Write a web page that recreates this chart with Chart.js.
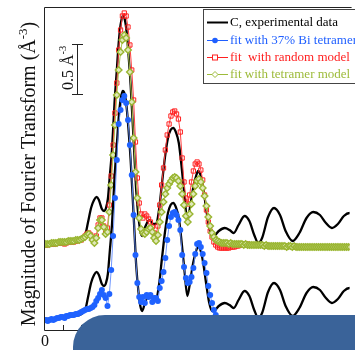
<!DOCTYPE html>
<html>
<head>
<meta charset="utf-8">
<script src="https://cdn.jsdelivr.net/npm/chart.js@4.4.1/dist/chart.umd.min.js"></script>
<style>
  html, body { margin: 0; padding: 0; background: #fff; overflow: hidden; }
  #wrap { position: relative; width: 355px; height: 350px; }
  #cover { position: absolute; left: 73px; top: 315px; width: 320px; height: 80px;
           background: #3a6399; border-top-left-radius: 32px; }
</style>
</head>
<body>
<div id="wrap">
  <canvas id="myChart" width="355" height="350"></canvas>
  <div id="cover"></div>
</div>
<script>
// R grid of the fits (Angstrom), one point every 0.05
const step = 0.05;
// shift of the upper group of curves
const shift = 0.75;

// experimental |FT|, read at key points
const expR = [0, 0.42, 0.82, 1.00, 1.11, 1.18, 1.26, 1.34, 1.41, 1.47, 1.55, 1.61, 1.66, 1.71, 1.76,
  1.82, 1.89, 1.95, 2.00, 2.05, 2.11, 2.16, 2.21, 2.26, 2.32, 2.37, 2.42, 2.47, 2.53, 2.58, 2.63,
  2.71, 2.82, 2.92, 3.00, 3.08, 3.16, 3.24, 3.32, 3.39, 3.46, 3.53, 3.61, 3.68, 3.76, 3.84, 3.92,
  4.00, 4.08, 4.13, 4.18, 4.26, 4.34, 4.42, 4.50, 4.58, 4.68, 4.84, 4.97, 5.08, 5.21, 5.37, 5.50,
  5.63, 5.74, 5.84, 6.00, 6.16, 6.32, 6.47, 6.66, 6.84, 7.03, 7.21, 7.39, 7.55, 7.71, 7.87, 8.03,
  8.18, 8.34];
const expMag = [0.11, 0.12, 0.14, 0.16, 0.21, 0.33, 0.47, 0.55, 0.58, 0.55, 0.46, 0.44, 0.47, 0.56, 0.78,
  1.05, 1.53, 1.85, 2.12, 2.30, 2.39, 2.36, 2.24, 2.02, 1.70, 1.36, 1.00, 0.64, 0.38, 0.24, 0.19,
  0.28, 0.35, 0.31, 0.31, 0.45, 0.72, 0.98, 1.17, 1.25, 1.27, 1.23, 1.12, 0.90, 0.60, 0.34, 0.50,
  0.68, 0.80, 0.84, 0.81, 0.68, 0.47, 0.28, 0.19, 0.20, 0.24, 0.27, 0.25, 0.22, 0.30, 0.39, 0.34,
  0.20, 0.12, 0.17, 0.38, 0.47, 0.40, 0.24, 0.14, 0.22, 0.37, 0.43, 0.40, 0.32, 0.27, 0.31, 0.39,
  0.42, 0.38];

// fit with 37% Bi tetramer
const fitMix = [0.10, 0.10, 0.09, 0.10, 0.11, 0.10, 0.11, 0.12, 0.12, 0.13,
  0.13, 0.12, 0.14, 0.14, 0.15, 0.15, 0.15, 0.16, 0.16, 0.17,
  0.18, 0.19, 0.20, 0.21, 0.21, 0.22, 0.23, 0.25, 0.29, 0.32,
  0.36, 0.40, 0.35, 0.32, 0.24, 0.36, 0.60, 0.94, 1.32, 1.70,
  2.06, 2.20, 2.30, 2.34, 2.27, 2.10, 1.85, 1.55, 1.15, 0.75,
  0.47, 0.33, 0.28, 0.33, 0.27, 0.35, 0.33, 0.35, 0.28, 0.32,
  0.32, 0.29, 0.42, 0.49, 0.58, 0.72, 0.90, 1.04, 1.13, 1.17,
  1.18, 1.15, 1.10, 1.00, 0.75, 0.63, 0.52, 0.47, 0.48, 0.53,
  0.62, 0.76, 0.86, 0.87, 0.83, 0.76, 0.67, 0.57, 0.44, 0.35,
  0.27, 0.20, 0.15, 0.12, 0.11, 0.10];

// fit with random model
const fitRandom = [0.10, 0.10, 0.10, 0.11, 0.11, 0.11, 0.11, 0.12, 0.12, 0.12,
  0.12, 0.11, 0.12, 0.13, 0.13, 0.13, 0.13, 0.14, 0.14, 0.15,
  0.15, 0.17, 0.19, 0.21, 0.22, 0.20, 0.16, 0.13, 0.19, 0.30,
  0.37, 0.37, 0.29, 0.22, 0.27, 0.50, 0.79, 1.10, 1.42, 1.72,
  2.05, 2.25, 2.39, 2.42, 2.39, 2.28, 2.10, 1.85, 1.55, 1.13,
  0.77, 0.52, 0.41, 0.37, 0.41, 0.39, 0.36, 0.33, 0.28, 0.22,
  0.19, 0.29, 0.50, 0.70, 0.87, 1.05, 1.20, 1.31, 1.39, 1.43,
  1.44, 1.41, 1.36, 1.23, 0.97, 0.73, 0.57, 0.51, 0.60, 0.73,
  0.84, 0.91, 0.93, 0.91, 0.85, 0.75, 0.60, 0.45, 0.33, 0.24,
  0.18, 0.13, 0.10, 0.08, 0.07,
  0.07, 0.07, 0.07, 0.07, 0.07, 0.08, 0.08, 0.08, 0.09, 0.09, 0.10, 0.10,
  0.11, 0.10, 0.11, 0.10, 0.10, 0.10, 0.10, 0.10, 0.10,
  0.10, 0.10, 0.09, 0.10, 0.09, 0.09, 0.09, 0.09, 0.09, 0.09,
  0.09, 0.09, 0.09, 0.09, 0.08, 0.09, 0.09, 0.08, 0.09, 0.08,
  0.08, 0.08, 0.08, 0.08, 0.08, 0.08, 0.08, 0.08, 0.08, 0.08,
  0.08, 0.08, 0.08, 0.08, 0.08, 0.08, 0.08, 0.08, 0.08, 0.08,
  0.08, 0.08, 0.08, 0.08, 0.08, 0.08, 0.08, 0.08, 0.08, 0.08, 0.08];

// fit with tetramer model
const fitTetramer = [0.10, 0.11, 0.11, 0.11, 0.12, 0.12, 0.12, 0.12, 0.13, 0.13,
  0.13, 0.13, 0.13, 0.14, 0.14, 0.14, 0.14, 0.15, 0.15, 0.15,
  0.16, 0.17, 0.18, 0.20, 0.21, 0.19, 0.15, 0.12, 0.17, 0.27,
  0.35, 0.35, 0.28, 0.21, 0.23, 0.43, 0.70, 1.00, 1.30, 1.60,
  1.85, 2.03, 2.15, 2.20, 2.17, 2.05, 1.83, 1.53, 1.17, 0.83,
  0.57, 0.37, 0.26, 0.22, 0.21, 0.23, 0.26, 0.27, 0.23, 0.17,
  0.14, 0.20, 0.33, 0.43, 0.53, 0.61, 0.67, 0.71, 0.74, 0.77,
  0.78, 0.77, 0.74, 0.69, 0.61, 0.50, 0.39, 0.33, 0.41, 0.51,
  0.61, 0.69, 0.74, 0.76, 0.73, 0.67, 0.59, 0.49, 0.38, 0.29,
  0.22, 0.18, 0.15, 0.14, 0.13, 0.12,
  0.12, 0.12, 0.12, 0.11, 0.12, 0.11, 0.11, 0.11, 0.11, 0.11,
  0.11, 0.10, 0.11, 0.10, 0.10, 0.10, 0.10, 0.10, 0.10, 0.10,
  0.10, 0.10, 0.09, 0.10, 0.09, 0.09, 0.09, 0.09, 0.09, 0.09,
  0.09, 0.09, 0.09, 0.09, 0.08, 0.09, 0.09, 0.08, 0.09, 0.08,
  0.08, 0.08, 0.08, 0.08, 0.08, 0.08, 0.08, 0.08, 0.08, 0.08,
  0.08, 0.08, 0.08, 0.08, 0.08, 0.08, 0.08, 0.08, 0.08, 0.08,
  0.08, 0.08, 0.08, 0.08, 0.08, 0.08, 0.08, 0.08, 0.08, 0.08, 0.08];

const xTickValues = [0, 0.5, 1, 1.5, 2, 2.5, 3, 3.5, 4, 4.5, 5, 5.5, 6, 6.5, 7, 7.5, 8];
const xTickLabels = ["0"];
const seriesNames = ["C, experimental data", "fit with 37% Bi tetramer", "fit  with random model", "fit with tetramer model"];
const seriesColors = ["#000000", "#1f5fff", "#ff2020", "#9dbb3a"];
const barSize = 0.5;
const barBase = 2.36;

const serif = '"Liberation Serif", "DejaVu Serif", serif';

function onGrid(arr, add) {
  return arr.map((v, i) => ({ x: +(i * step).toFixed(2), y: v + add }));
}
function onKeys(rs, vs, add) {
  return rs.map((r, i) => ({ x: r, y: vs[i] + add }));
}

// text with a raised "-3" part
function supText(ctx, parts, x, y, big, small) {
  let cx = x;
  parts.forEach(p => {
    ctx.font = (p.sup ? small : big) + "px " + serif;
    ctx.fillText(p.t, cx, p.sup ? y - big * 0.42 : y);
    cx += ctx.measureText(p.t).width;
  });
}
function supWidth(ctx, parts, big, small) {
  let w = 0;
  parts.forEach(p => { ctx.font = (p.sup ? small : big) + "px " + serif; w += ctx.measureText(p.t).width; });
  return w;
}

const decor = {
  id: "decor",
  afterDraw(chart) {
    const ctx = chart.ctx, a = chart.chartArea;
    const xs = chart.scales.x, ys = chart.scales.y;
    ctx.save();
    ctx.strokeStyle = "#222";
    ctx.lineWidth = 1;
    ctx.beginPath();
    ctx.moveTo(a.right + 2, a.top + 0.5);
    ctx.lineTo(a.left + 0.5, a.top + 0.5);
    ctx.lineTo(a.left + 0.5, a.bottom + 0.5);
    ctx.lineTo(a.right + 2, a.bottom + 0.5);
    xTickValues.forEach(v => {
      const px = Math.round(xs.getPixelForValue(v)) + 0.5;
      ctx.moveTo(px, a.bottom);
      ctx.lineTo(px, a.bottom - 5);
    });
    ctx.stroke();

    ctx.fillStyle = "#111";
    ctx.font = "16px " + serif;
    ctx.textAlign = "center";
    ctx.textBaseline = "middle";
    xTickLabels.forEach((t, i) => ctx.fillText(t, xs.getPixelForValue(xTickValues[i]) + 1, a.bottom + 12));

    // y title
    ctx.textAlign = "left";
    ctx.textBaseline = "alphabetic";
    const title = [{ t: "Magnitude of Fourier Transform (Å" }, { t: "-3", sup: true }, { t: ")" }];
    ctx.save();
    ctx.translate(35, 174);
    ctx.rotate(-Math.PI / 2);
    const tw = supWidth(ctx, title, 20, 13);
    supText(ctx, title, -tw / 2, 0, 20, 13);
    ctx.restore();

    // 0.5 scale bar
    const yb = ys.getPixelForValue(barBase), yt = ys.getPixelForValue(barBase + barSize);
    ctx.beginPath();
    ctx.moveTo(77.5, yb); ctx.lineTo(77.5, yt);
    ctx.moveTo(72, Math.round(yb) + 0.5); ctx.lineTo(83, Math.round(yb) + 0.5);
    ctx.moveTo(72, Math.round(yt) + 0.5); ctx.lineTo(83, Math.round(yt) + 0.5);
    ctx.stroke();
    const bar = [{ t: "0.5 Å" }, { t: "-3", sup: true }];
    ctx.save();
    ctx.translate(73, yb - 4);
    ctx.rotate(-Math.PI / 2);
    supText(ctx, bar, 0, 0, 16, 10.5);
    ctx.restore();

    // legend
    ctx.fillStyle = "#fff";
    ctx.fillRect(203, 9, 170, 74);
    ctx.strokeStyle = "#444";
    ctx.strokeRect(203.5, 9.5, 170, 74);
    const rows = [22, 40, 57, 74];
    seriesNames.forEach((name, i) => {
      const y = rows[i];
      ctx.strokeStyle = seriesColors[i];
      ctx.lineWidth = i === 0 ? 2 : 1;
      ctx.beginPath();
      ctx.moveTo(207, y + 0.5); ctx.lineTo(228, y + 0.5);
      ctx.stroke();
      ctx.lineWidth = 1;
      if (i === 1) {
        ctx.fillStyle = seriesColors[i];
        ctx.beginPath(); ctx.arc(215, y + 0.5, 2.8, 0, Math.PI * 2); ctx.fill();
      } else if (i === 2) {
        ctx.fillStyle = "#fff";
        ctx.fillRect(212.5, y - 2, 5, 5);
        ctx.strokeRect(212.5, y - 2, 5, 5);
      } else if (i === 3) {
        ctx.fillStyle = "#fff";
        ctx.beginPath();
        ctx.moveTo(215, y - 2.5); ctx.lineTo(218, y + 0.5); ctx.lineTo(215, y + 3.5); ctx.lineTo(212, y + 0.5);
        ctx.closePath(); ctx.fill(); ctx.stroke();
      }
      ctx.fillStyle = seriesColors[i];
      ctx.font = "13px " + serif;
      ctx.textBaseline = "middle";
      ctx.fillText(name, 230, y + 1);
    });
    ctx.restore();
  }
};

const ctx = document.getElementById("myChart").getContext("2d");
const chart = new Chart(ctx, {
  type: "line",
  data: {
    datasets: [
      {
        label: seriesNames[1],
        data: onGrid(fitMix, 0),
        borderColor: "rgba(95,140,255,0.9)",
        borderWidth: 1,
        pointStyle: "circle",
        pointRadius: 3,
        pointBackgroundColor: "#1f62ff",
        pointBorderWidth: 0,
        order: 1
      },
      {
        label: seriesNames[0],
        data: onKeys(expR, expMag, 0),
        borderColor: "#000",
        borderWidth: 2.3,
        pointRadius: 0,
        cubicInterpolationMode: "monotone",
        order: 2
      },
      {
        label: seriesNames[3],
        data: onGrid(fitTetramer, shift),
        borderColor: "#a8c24e",
        borderWidth: 1,
        pointStyle: "rectRot",
        pointRadius: 3.3,
        pointBorderColor: "#9ab632",
        pointBackgroundColor: "#dfe8b8",
        pointBorderWidth: 1.4,
        order: 3
      },
      {
        label: seriesNames[2],
        data: onGrid(fitRandom, shift),
        borderColor: "#ff4040",
        borderWidth: 1,
        pointStyle: "rect",
        pointRadius: 3,
        pointBorderColor: "#ff2020",
        pointBackgroundColor: "rgba(255,255,255,0)",
        pointBorderWidth: 1,
        order: 4
      },
      {
        label: seriesNames[0],
        data: onKeys(expR, expMag, shift),
        borderColor: "#000",
        borderWidth: 2.3,
        pointRadius: 0,
        cubicInterpolationMode: "monotone",
        order: 5
      }
    ]
  },
  options: {
    responsive: false,
    animation: false,
    events: [],
    devicePixelRatio: 1,
    layout: { padding: { left: 44, top: 7, right: 0, bottom: 20 } },
    scales: {
      x: { type: "linear", min: 0, max: 8.184, display: false },
      y: { type: "linear", min: 0, max: 3.23, display: false }
    },
    plugins: { legend: { display: false }, tooltip: { enabled: false } }
  },
  plugins: [decor]
});
</script>
</body>
</html>
